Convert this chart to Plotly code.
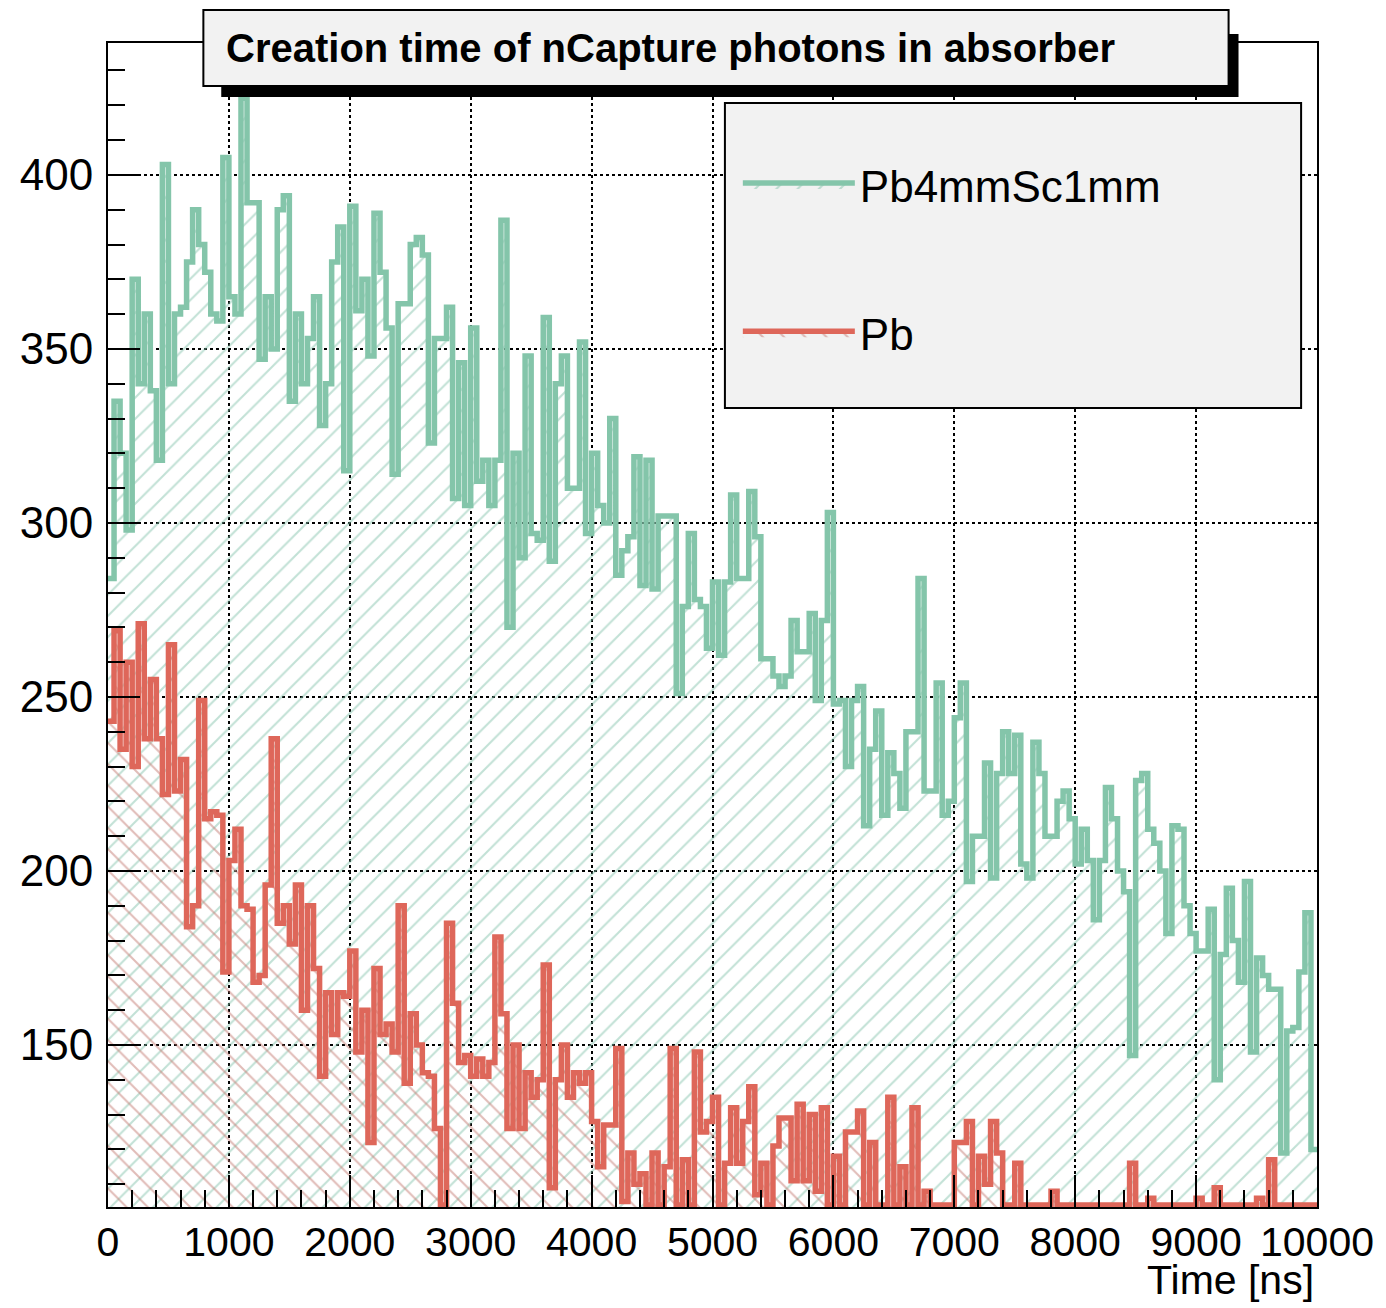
import numpy as np
import plotly.graph_objects as go

# ---------------- data (counts per 50 ns bin, 0..10000 ns) ----------------
bin_width_ns = 50
n_bins = 200

pb4mmsc1mm_counts = [
    284, 335, 320, 298, 370, 340, 360, 338, 318, 403,
    340, 360, 362, 375, 390, 380, 372, 360, 358, 405,
    365, 360, 422, 392, 392, 347, 365, 350, 390, 394,
    335, 360, 340, 353, 365, 328, 340, 375, 385, 315,
    391, 361, 370, 348, 389, 372, 356, 314, 363, 363,
    380, 382, 377, 323, 353, 353, 362, 307, 346, 305,
    356, 312, 318, 305, 318, 387, 270, 320, 290, 348,
    297, 295, 359, 289, 340, 348, 310, 310, 352, 297,
    320, 305, 300, 330, 285, 292, 296, 319, 282, 318,
    281, 302, 302, 302, 251, 276, 297, 278, 276, 264,
    283, 262, 283, 308, 284, 284, 309, 296, 261, 261,
    256, 253, 256, 272, 263, 263, 274, 249, 272, 303,
    248, 249, 230, 249, 253, 213, 235, 246, 216, 234,
    228, 218, 240, 240, 284, 223, 223, 254, 216, 220,
    244, 254, 197, 210, 210, 231, 198, 228, 240, 228,
    239, 202, 198, 237, 228, 210, 210, 220, 223, 215,
    202, 212, 203, 186, 203, 224, 215, 200, 194, 147,
    226, 228, 212, 208, 200, 182, 213, 212, 190, 182,
    177, 177, 189, 140, 176, 195, 180, 168, 197, 148,
    175, 170, 166, 166, 119, 154, 155, 171, 188, 120,
]

pb_counts = [
    243, 269, 235, 260, 230, 271, 238, 255, 238, 222,
    265, 223, 232, 184, 190, 249, 215, 217, 216, 171,
    203, 212, 190, 189, 168, 170, 196, 238, 185, 190,
    179, 196, 160, 190, 172, 141, 165, 153, 165, 164,
    177, 148, 160, 122, 172, 153, 156, 148, 190, 139,
    159, 150, 142, 141, 126, 104, 185, 162, 145, 147,
    141, 146, 141, 145, 181, 159, 126, 150, 126, 142,
    135, 140, 173, 109, 140, 150, 135, 142, 139, 142,
    128, 115, 127, 127, 149, 105, 119, 110, 113, 104,
    119, 104, 115, 149, 104, 117, 104, 148, 125, 128,
    135, 104, 116, 132, 116, 128, 138, 107, 116, 104,
    121, 129, 129, 111, 133, 111, 130, 108, 132, 104,
    118, 104, 125, 125, 131, 104, 122, 104, 104, 135,
    104, 115, 104, 132, 104, 108, 104, 104, 104, 104,
    122, 122, 128, 104, 118, 110, 128, 119, 104, 104,
    116, 104, 104, 104, 104, 104, 108, 104, 104, 104,
    104, 104, 104, 104, 104, 104, 104, 104, 104, 116,
    104, 104, 106, 104, 104, 104, 104, 104, 104, 104,
    106, 104, 104, 109, 104, 104, 104, 104, 104, 104,
    106, 104, 117, 104, 104, 104, 104, 104, 104, 104,
]

series_names = ["Pb4mmSc1mm", "Pb"]
x_tick_values = [0, 1000, 2000, 3000, 4000, 5000, 6000, 7000, 8000, 9000, 10000]
y_tick_values = [150, 200, 250, 300, 350, 400]

title_text = "<b>Creation time of nCapture photons in absorber</b>"
x_title_text = "Time [ns]"

# ---------------- styling ----------------
OFF = 8                      # page body margin of the html page
SW, SH = 1386, 1308          # screen size
W, H = SW - OFF, SH - OFF
# plot frame in screen pixels
FX0, FX1, FY0, FY1 = 104, 1321, 43, 1207
L, T = FX0 - OFF, FY0 - OFF
R = W - (FX1 - OFF)
B = H - (FY1 - OFF)

FONT = "Liberation Sans, Arial, Helvetica, sans-serif"
GREEN = "#84c5aa"
GREEN_HATCH = "#86c4ad"
RED = "#de675a"
RED_HATCH = "#c47a72"

edges = np.arange(n_bins + 1) * bin_width_ns


def step_xy(counts):
    return list(edges), list(counts) + [counts[-1]]


fig = go.Figure()
for name, counts, lc, hc, shape in [
    (series_names[0], pb4mmsc1mm_counts, GREEN, GREEN_HATCH, "/"),
    (series_names[1], pb_counts, RED, RED_HATCH, "\\"),
]:
    xs, ys = step_xy(counts)
    fig.add_trace(go.Scatter(
        x=xs, y=ys, name=name, mode="lines",
        line=dict(color=lc, width=5.5, shape="hv"),
        fill="tozeroy", fillcolor="rgba(0,0,0,0)",
        fillpattern=dict(shape=shape, fgcolor=hc, bgcolor="rgba(0,0,0,0)",
                         size=15, solidity=0.14),
        legendgroup=name,
    ))

pw = FX1 - FX0
ph = FY1 - FY0


def px(xs):
    """screen x pixel -> paper coordinate"""
    return (xs - FX0) / pw


def py(ys):
    """screen y pixel -> paper coordinate"""
    return (FY1 - ys) / ph


axis_common = dict(
    showline=True, mirror=True, linecolor="black", linewidth=2,
    ticks="inside", tickcolor="black", tickwidth=2, ticklen=32,
    showgrid=True, gridcolor="black", griddash="dot", gridwidth=1.5,
    zeroline=False,
)

fig.update_xaxes(
    range=[0, 10000], tickvals=x_tick_values, tickangle=0, tickformat="d",
    tickfont=dict(family=FONT, size=41, color="black"),
    ticklabelstandoff=-2,
    minor=dict(ticks="inside", ticklen=17, tickwidth=2, tickcolor="black", dtick=200, showgrid=False),
    **axis_common,
)
fig.update_yaxes(
    range=[103.45, 437.9], tickvals=y_tick_values,
    tickfont=dict(family=FONT, size=44, color="black"),
    ticklabelstandoff=4,
    minor=dict(ticks="inside", ticklen=17, tickwidth=2, tickcolor="black", dtick=10, showgrid=False),
    **axis_common,
)

shapes = [
    # legend box
    dict(type="rect", xref="paper", yref="paper",
         x0=px(725), x1=px(1305), y0=py(408), y1=py(103),
         fillcolor="#f2f2f2", line=dict(color="black", width=2), layer="above"),
    # title shadow
    dict(type="rect", xref="paper", yref="paper",
         x0=px(218), x1=px(1242), y0=py(97), y1=py(34),
         fillcolor="black", line=dict(width=0), layer="above"),
    # title box
    dict(type="rect", xref="paper", yref="paper",
         x0=px(200), x1=px(1232), y0=py(86), y1=py(10),
         fillcolor="#f2f2f2", line=dict(color="black", width=2), layer="above"),
]

annotations = [
    dict(text=title_text, xref="paper", yref="paper",
         x=px(221), y=py(48), xanchor="left", yanchor="middle",
         showarrow=False,
         font=dict(family=FONT, size=40, color="black")),
    dict(text=x_title_text, xref="paper", yref="paper",
         x=px(1320), y=py(1305), xanchor="right", yanchor="bottom",
         showarrow=False,
         font=dict(family=FONT, size=41, color="black")),
]

fig.update_layout(
    width=W, height=H,
    margin=dict(l=L, r=R, t=T, b=B, pad=0),
    paper_bgcolor="white", plot_bgcolor="white",
    font=dict(family=FONT, size=40, color="black"),
    showlegend=True,
    legend=dict(
        x=px(738), y=py(150), xanchor="left", yanchor="top",
        bgcolor="rgba(0,0,0,0)", borderwidth=0,
        font=dict(family=FONT, size=44, color="black"),
        itemwidth=112, tracegroupgap=88, traceorder="grouped",
    ),
    shapes=shapes,
    annotations=annotations,
)

fig.write_html("out.html")
